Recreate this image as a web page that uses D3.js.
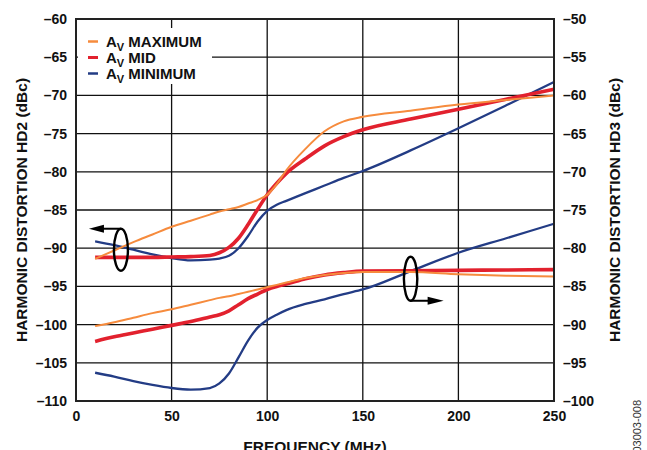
<!DOCTYPE html>
<html><head><meta charset="utf-8">
<script src="https://cdn.jsdelivr.net/npm/d3@7"></script>
<style>
html,body{margin:0;padding:0;background:#fff;}
text{font-family:"Liberation Sans",Arial,Helvetica,sans-serif;}
</style></head>
<body>
<svg id="chart" width="647" height="450"></svg>
<script>
// ---------- data ----------
const freq = [10,20,30,40,50,60,70,75,80,85,90,95,100,105,110,120,130,140,150,175,200,225,250];
// HD2 (left axis, dBc)
const hd2Max = [-91.4,-90.3,-89.2,-88.2,-87.2,-86.4,-85.6,-85.2,-84.9,-84.6,-84.15,-83.7,-83.0,-81.6,-79.8,-77.0,-74.7,-73.4,-72.8,-72.0,-71.2,-70.6,-70.0];
const hd2Mid = [-91.2,-91.2,-91.2,-91.2,-91.15,-91.1,-90.95,-90.6,-89.9,-88.7,-86.9,-84.9,-83.0,-81.5,-80.2,-78.3,-76.6,-75.4,-74.5,-73.1,-71.8,-70.5,-69.2];
const hd2Min = [-89.1,-89.6,-90.2,-90.8,-91.3,-91.6,-91.5,-91.35,-91.0,-90.0,-88.4,-86.5,-85.1,-84.3,-83.8,-82.8,-81.8,-80.8,-79.9,-77.2,-74.3,-71.3,-68.25];
// HD3 (right axis, dBc)
const hd3Max = [-90.2,-89.7,-89.1,-88.5,-88.0,-87.4,-86.8,-86.5,-86.3,-86.0,-85.7,-85.4,-85.1,-84.8,-84.5,-83.9,-83.5,-83.25,-83.1,-83.1,-83.4,-83.6,-83.7];
const hd3Mid = [-92.2,-91.6,-91.1,-90.6,-90.1,-89.6,-89.0,-88.7,-88.2,-87.4,-86.6,-86.0,-85.4,-85.0,-84.7,-84.0,-83.5,-83.2,-83.0,-82.95,-82.9,-82.85,-82.8];
const hd3Min = [-96.3,-96.8,-97.4,-97.9,-98.3,-98.5,-98.3,-97.7,-96.4,-94.3,-92.1,-90.4,-89.4,-88.7,-88.1,-87.3,-86.7,-86.0,-85.4,-83.0,-80.6,-78.7,-76.8];

const xTicks = [0,50,100,150,200,250];
const yLeftTicks = [-60,-65,-70,-75,-80,-85,-90,-95,-100,-105,-110];
const yRightTicks = [-50,-55,-60,-65,-70,-75,-80,-85,-90,-95,-100];
const legendLabels = ["MAXIMUM","MID","MINIMUM"];
const xTitle = "FREQUENCY (MHz)";
const yLeftTitle = "HARMONIC DISTORTION HD2 (dBc)";
const yRightTitle = "HARMONIC DISTORTION HD3 (dBc)";
const figId = "03003-008";
// annotation anchors (data coords)
const leftMarker = {f:23.5, v:-90.2};   // left axis
const rightMarker = {f:175, v:-84.0};   // right axis

// ---------- layout ----------
const L=76, R=554, T=19, B=401;
const colors = {max:"#F68B3D", mid:"#E2212E", min:"#233C85"};
const widths = {max:2, mid:3.6, min:2.3};

const svg = d3.select("#chart");
const x = d3.scaleLinear().domain([0,250]).range([L,R]);
const yL = d3.scaleLinear().domain([-110,-60]).range([B,T]);
const yR = d3.scaleLinear().domain([-100,-50]).range([B,T]);

const fmt = d => d < 0 ? "\u2013" + Math.abs(d) : String(d);

// grid
const grid = svg.append("g");
grid.selectAll(".h").data(yLeftTicks).join("line")
  .attr("x1",L).attr("x2",R).attr("y1",d=>yL(d)).attr("y2",d=>yL(d))
  .attr("stroke","#111").attr("stroke-width",1.3);
grid.selectAll(".v").data(xTicks).join("line")
  .attr("x1",d=>x(d)).attr("x2",d=>x(d)).attr("y1",T).attr("y2",B)
  .attr("stroke","#111").attr("stroke-width",1.3);

// axes (labels only via d3 axis)
const axStyle = g => {
  g.select(".domain").remove();
  g.selectAll(".tick line").remove();
  g.selectAll("text").attr("font-size","14px").attr("font-weight","bold").attr("fill","#111")
    .attr("font-family","'Liberation Sans',Arial,sans-serif");
};
svg.append("g").attr("transform",`translate(${L},0)`)
  .call(d3.axisLeft(yL).tickValues(yLeftTicks).tickFormat(fmt).tickSize(0).tickPadding(9))
  .call(axStyle);
svg.append("g").attr("transform",`translate(${R},0)`)
  .call(d3.axisRight(yR).tickValues(yRightTicks).tickFormat(fmt).tickSize(0).tickPadding(9))
  .call(axStyle);
svg.append("g").attr("transform",`translate(0,${B})`)
  .call(d3.axisBottom(x).tickValues(xTicks).tickFormat(fmt).tickSize(0).tickPadding(10))
  .call(axStyle);

// legend box (white, hides grid)
const leg = svg.append("g");
leg.append("rect").attr("x",78).attr("y",28).attr("width",134).attr("height",56).attr("fill","#fff");

// curves
const line = (yS) => d3.line().x((d,i)=>x(freq[i])).y(d=>yS(d)).curve(d3.curveMonotoneX);
const series = [
  {v:hd3Min,y:yR,k:"min"},{v:hd2Min,y:yL,k:"min"},
  {v:hd3Mid,y:yR,k:"mid"},{v:hd2Mid,y:yL,k:"mid"},
  {v:hd3Max,y:yR,k:"max"},{v:hd2Max,y:yL,k:"max"}
];
svg.append("g").selectAll("path").data(series).join("path")
  .attr("d",s=>line(s.y)(s.v)).attr("fill","none")
  .attr("stroke",s=>colors[s.k]).attr("stroke-width",s=>widths[s.k])
  .attr("stroke-linejoin","round").attr("stroke-linecap","butt");

// frame
svg.append("rect").attr("x",L).attr("y",T).attr("width",R-L).attr("height",B-T)
  .attr("fill","none").attr("stroke","#222").attr("stroke-width",2);

// legend entries
const keys = ["max","mid","min"];
keys.forEach((k,i)=>{
  const yy = 41.5 + i*16;
  leg.append("line").attr("x1",88).attr("x2",98).attr("y1",yy).attr("y2",yy)
    .attr("stroke",colors[k]).attr("stroke-width",k==="mid"?3:2.5);
  const t = leg.append("text").attr("x",106).attr("y",yy+5)
    .attr("font-size","15px").attr("font-weight","bold").attr("fill","#111");
  t.append("tspan").text("A");
  t.append("tspan").attr("font-size","11px").attr("dy",4).text("V");
  t.append("tspan").attr("dy",-4).text(" " + legendLabels[i]);
});

// markers
const mk = svg.append("g").attr("stroke","#000").attr("fill","none");
const lx = x(leftMarker.f), ly = yL(leftMarker.v);
mk.append("ellipse").attr("cx",lx).attr("cy",ly).attr("rx",7).attr("ry",21).attr("stroke-width",2.4);
mk.append("line").attr("x1",lx).attr("x2",lx-20).attr("y1",ly-21).attr("y2",ly-21).attr("stroke-width",2);
svg.append("path").attr("d",`M${lx-32},${ly-21} L${lx-17},${ly-25} L${lx-17},${ly-17} Z`).attr("fill","#000");

const rx = x(rightMarker.f), ry = yR(rightMarker.v);
mk.append("ellipse").attr("cx",rx).attr("cy",ry).attr("rx",6.7).attr("ry",22).attr("stroke-width",2.4);
mk.append("line").attr("x1",rx).attr("x2",rx+20).attr("y1",ry+22).attr("y2",ry+22).attr("stroke-width",2);
svg.append("path").attr("d",`M${rx+33},${ry+22} L${rx+17},${ry+18} L${rx+17},${ry+26} Z`).attr("fill","#000");

// titles
svg.append("text").attr("x",(L+R)/2).attr("y",452).attr("text-anchor","middle")
  .attr("font-size","15.5px").attr("font-weight","bold").attr("fill","#111").text(xTitle);
svg.append("text").attr("transform",`translate(27,${(T+B)/2}) rotate(-90)`).attr("text-anchor","middle")
  .attr("font-size","15.5px").attr("font-weight","bold").attr("fill","#111").text(yLeftTitle);
svg.append("text").attr("transform",`translate(620,${(T+B)/2}) rotate(-90)`).attr("text-anchor","middle")
  .attr("font-size","15.5px").attr("font-weight","bold").attr("fill","#111").text(yRightTitle);
svg.append("text").attr("transform",`translate(641,400) rotate(-90)`).attr("text-anchor","end")
  .attr("font-size","11px").attr("fill","#333").text(figId);
</script>
</body></html>
